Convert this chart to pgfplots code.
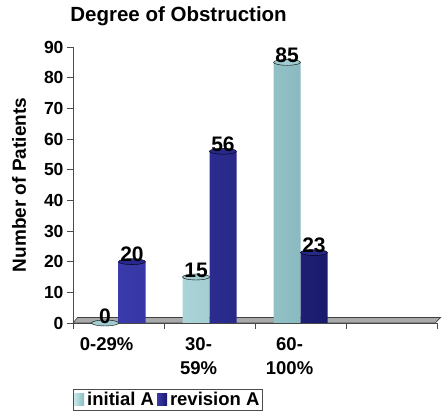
\documentclass[border=0pt]{standalone}
\usepackage{pgfplots}
\pgfplotsset{compat=1.18}
\usepackage{fontspec}
\setmainfont{Liberation Sans}
\definecolor{cyL}{RGB}{196,232,234}
\definecolor{cyM}{RGB}{178,220,224}
\definecolor{cyR}{RGB}{138,186,192}
\definecolor{cyT}{RGB}{160,204,208}
\definecolor{blL}{RGB}{58,58,172}
\definecolor{blM}{RGB}{46,46,156}
\definecolor{blR}{RGB}{26,26,108}
\definecolor{blT}{RGB}{40,40,140}
\definecolor{floorg}{RGB}{168,170,170}
\begin{document}
\begin{tikzpicture}
\begin{axis}[
  scale only axis, width=364pt, height=276pt,
  xmin=0, xmax=4, ymin=0, ymax=90,
  axis x line=bottom, axis y line=left,
  axis line style={-, black!70, line width=0.8pt},
  clip=false,
  ytick={0,10,...,90},
  xtick={0,1,2,3,4}, xticklabels={},
  extra x ticks={0.37,1.38,2.38},
  extra x tick labels={0-29\%, {30-\\59\%}, {60-\\100\%}},
  extra x tick style={major tick length=0pt, tick label style={align=center, yshift=-11pt, font=\bfseries\fontsize{18.5}{24}\selectfont}},
  tick align=outside, major tick length=6pt,
  tick style={black!70, line width=0.8pt},
  tick label style={font=\bfseries\fontsize{17.5}{24}\selectfont},
  /pgf/number format/assume math mode=true,
  ylabel={Number of Patients},
  ylabel style={font=\bfseries\fontsize{19}{20}\selectfont, at={(axis description cs:-0.148,0.5)}, anchor=center},
  title={Degree of Obstruction},
  title style={font=\bfseries\fontsize{20.5}{22}\selectfont, at={(axis description cs:0.29,1)}, anchor=base, yshift=20pt},
  legend style={at={(axis description cs:0,0)}, anchor=north west, yshift=-66pt, draw=black!70,
    font=\bfseries\fontsize{18.5}{20}\selectfont, inner sep=1pt, column sep=1pt},
  legend columns=2,
  legend image code/.code={\fill[#1] (0pt,-6pt) rectangle (10pt,6.5pt);},
]
\addplot[fill=floorg, draw=black!75, line width=0.6pt, mark=none, forget plot]
  coordinates {(0,0) (3.98,0) (4.04,1.8) (0.05,1.8) (0,0)};
\addplot[ybar, bar width=27pt, bar shift=-13.5pt, draw=none, left color=cyL, middle color=cyM, right color=cyR]
  coordinates {(0.5,0) (1.5,15) (2.5,85)};
\addplot[ybar, bar width=27pt, bar shift=13.5pt, draw=none, left color=blL, middle color=blM, right color=blR]
  coordinates {(0.5,20) (1.5,56) (2.5,23)};
\legend{initial A, revision A}
% cylinder tops and value labels
\addplot[only marks, mark=*, mark size=13.5pt, mark options={yscale=0.22, fill=cyT, draw=none}, forget plot,
  nodes near coords, every node near coord/.append style={text=black, font=\bfseries\fontsize{21}{22}\selectfont, anchor=south, yshift=-4pt}]
  coordinates {(0.352,0) (1.352,15) (2.352,85)};
\addplot[only marks, mark=*, mark size=13.5pt, mark options={yscale=0.22, fill=blT, draw=none}, forget plot,
  nodes near coords, every node near coord/.append style={text=black, font=\bfseries\fontsize{21}{22}\selectfont, anchor=south, yshift=-4pt}]
  coordinates {(0.648,20) (1.648,56) (2.648,23)};
\coordinate (bbsw) at (rel axis cs:0,0);
\end{axis}
\pgfresetboundingbox
\path[use as bounding box] ([shift={(-73pt,-88pt)}]bbsw) rectangle ++(443pt,411pt);
\end{tikzpicture}
\end{document}
